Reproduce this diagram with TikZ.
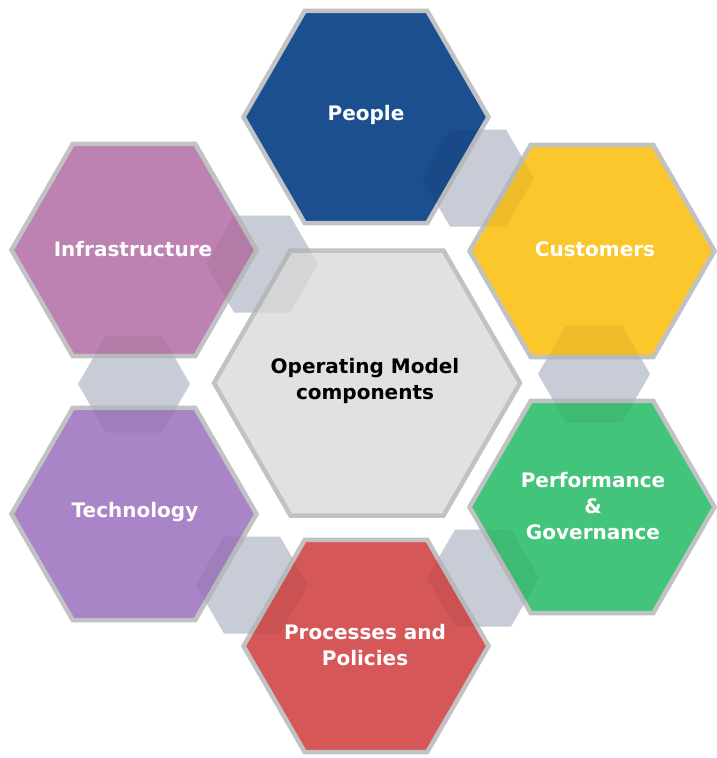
\documentclass[tikz,border=0pt]{standalone}
\usepackage{fontspec}
\setmainfont{DejaVu Sans}
\usetikzlibrary{shapes.geometric}
\definecolor{hexborder}{RGB}{192,194,196}
\definecolor{conbase}{RGB}{211,215,227}
\definecolor{cpeople}{RGB}{27,79,143}
\definecolor{ccust}{RGB}{252,199,44}
\definecolor{cperf}{RGB}{67,196,123}
\definecolor{cproc}{RGB}{214,87,87}
\definecolor{ctech}{RGB}{169,132,198}
\definecolor{cinfra}{RGB}{189,130,178}
\definecolor{ccentre}{RGB}{225,225,227}
\begin{document}
\begin{tikzpicture}[x=1pt,y=-1pt,
  hexshape/.style={regular polygon, regular polygon sides=6, inner sep=0pt},
  outerhex/.style={hexshape, minimum size=245pt, draw=hexborder, line width=4.5pt},
  centrehex/.style={hexshape, minimum size=306pt, draw=hexborder, line width=4.5pt, fill=ccentre},
  conhex/.style={hexshape, minimum size=112pt, fill=conbase},
  conshade/.style={hexshape, minimum size=112pt, fill=black, fill opacity=0.05},
  lbl/.style={align=center, font=\fontsize{20}{26}\selectfont\bfseries, text=white, inner sep=0pt},
  lbldark/.style={lbl, text=black}]
\useasboundingbox (0,0) rectangle (716,758);
% connectors (base)
\node[conhex] (c1) at (478,178) {};
\node[conhex] (c2) at (594,374) {};
\node[conhex] (c3) at (483,578) {};
\node[conhex] (c4) at (252,585) {};
\node[conhex] (c5) at (134,384) {};
\node[conhex] (c6) at (262,264) {};
% hexagons
\node[centrehex] (centre) at (367,383) {};
\node[outerhex, fill=cpeople] (people) at (366,117) {};
\node[outerhex, fill=ccust] (cust) at (592,251) {};
\node[outerhex, fill=cperf] (perf) at (592,507) {};
\node[outerhex, fill=cproc] (proc) at (366,646) {};
\node[outerhex, fill=ctech] (tech) at (134,514) {};
\node[outerhex, fill=cinfra] (infra) at (134,250) {};
% connector shading on top
\node[conshade] (s1) at (c1) {};
\node[conshade] (s2) at (c2) {};
\node[conshade] (s3) at (c3) {};
\node[conshade] (s4) at (c4) {};
\node[conshade] (s5) at (c5) {};
\node[conshade] (s6) at (c6) {};
% labels
\node[lbldark] (tcentre) at (365,381) {Operating Model\\components};
\node[lbl] (tpeople) at (366,115) {People};
\node[lbl] (tcust) at (595,249) {Customers};
\node[lbl] (tperf) at (593,506) {Performance\\\&\\Governance};
\node[lbl] (tproc) at (365,645) {Processes and\\Policies};
\node[lbl] (ttech) at (135,512) {Technology};
\node[lbl] (tinfra) at (133,249) {Infrastructure};
\end{tikzpicture}
\end{document}
